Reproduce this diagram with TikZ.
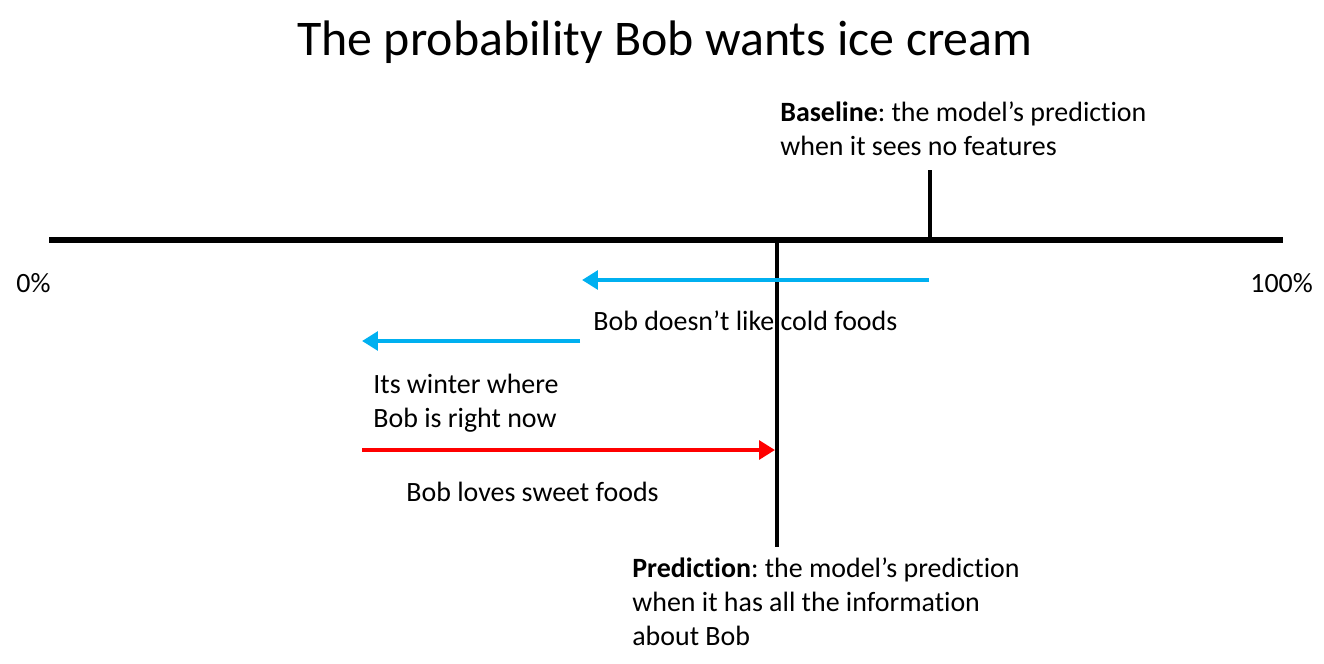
\documentclass[tikz,border=0pt]{standalone}
\usepackage{fontspec}
\setmainfont[Ligatures=NoCommon]{Carlito}
\usetikzlibrary{arrows.meta}
\frenchspacing

\definecolor{pushblue}{RGB}{0,176,240}

\tikzset{
	note/.style={anchor=west, align=left, inner sep=0pt, font=\fontsize{15.9}{19.4}\selectfont},
	push/.style={line width=2.8pt, -{Triangle[length=9pt,width=10.5pt]}},
}

\begin{document}
\begin{tikzpicture}[x=0.02cm, y=-0.02cm]
		\useasboundingbox (0,0) rectangle (1324,663);

		\node (title) at (665,42) {\fontsize{28.4}{34}\selectfont The probability Bob wants ice cream};

		%Akse
		\coordinate (zero) at (49,240);
		\coordinate (hundred) at (1283,240);
		\draw [line width=3.6pt] (zero) -- (hundred);
		\node [note] (lo) at (16,283) {0\%};
		\node [note] (hi) at (1250,283) {100\%};

		%Baseline
		\coordinate (base) at (930,240);
		\coordinate (basetop) at (930,170);
		\draw [line width=2.3pt] (base) -- (basetop);
		\node [note] (basetext) at (780,129) {\textbf{Baseline}: the model’s prediction\\when it sees no features};

		%Prediction
		\coordinate (pred) at (777,240);
		\coordinate (predbot) at (777,547);
		\draw [line width=2.3pt] (pred) -- (predbot);
		\node [note] (predtext) at (632,602) {\textbf{Prediction}: the model’s prediction\\when it has all the information\\about Bob};

		%Bidrag
		\coordinate (a0) at (929,280);
		\coordinate (a1) at (582,280);
		\coordinate (b0) at (580,341);
		\coordinate (b1) at (362,341);
		\coordinate (c0) at (362,450);
		\coordinate (c1) at (775,450);
		\draw [push, pushblue] (a0) -- (a1);
		\draw [push, pushblue] (b0) -- (b1);
		\draw [push, red] (c0) -- (c1);
		\node [note] (cold) at (593,321) {Bob doesn’t like cold foods};
		\node [note] (winter) at (373,403) {Its winter where\\Bob is right now};
		\node [note] (sweet) at (406,492) {Bob loves sweet foods};
	\end{tikzpicture}
\end{document}
